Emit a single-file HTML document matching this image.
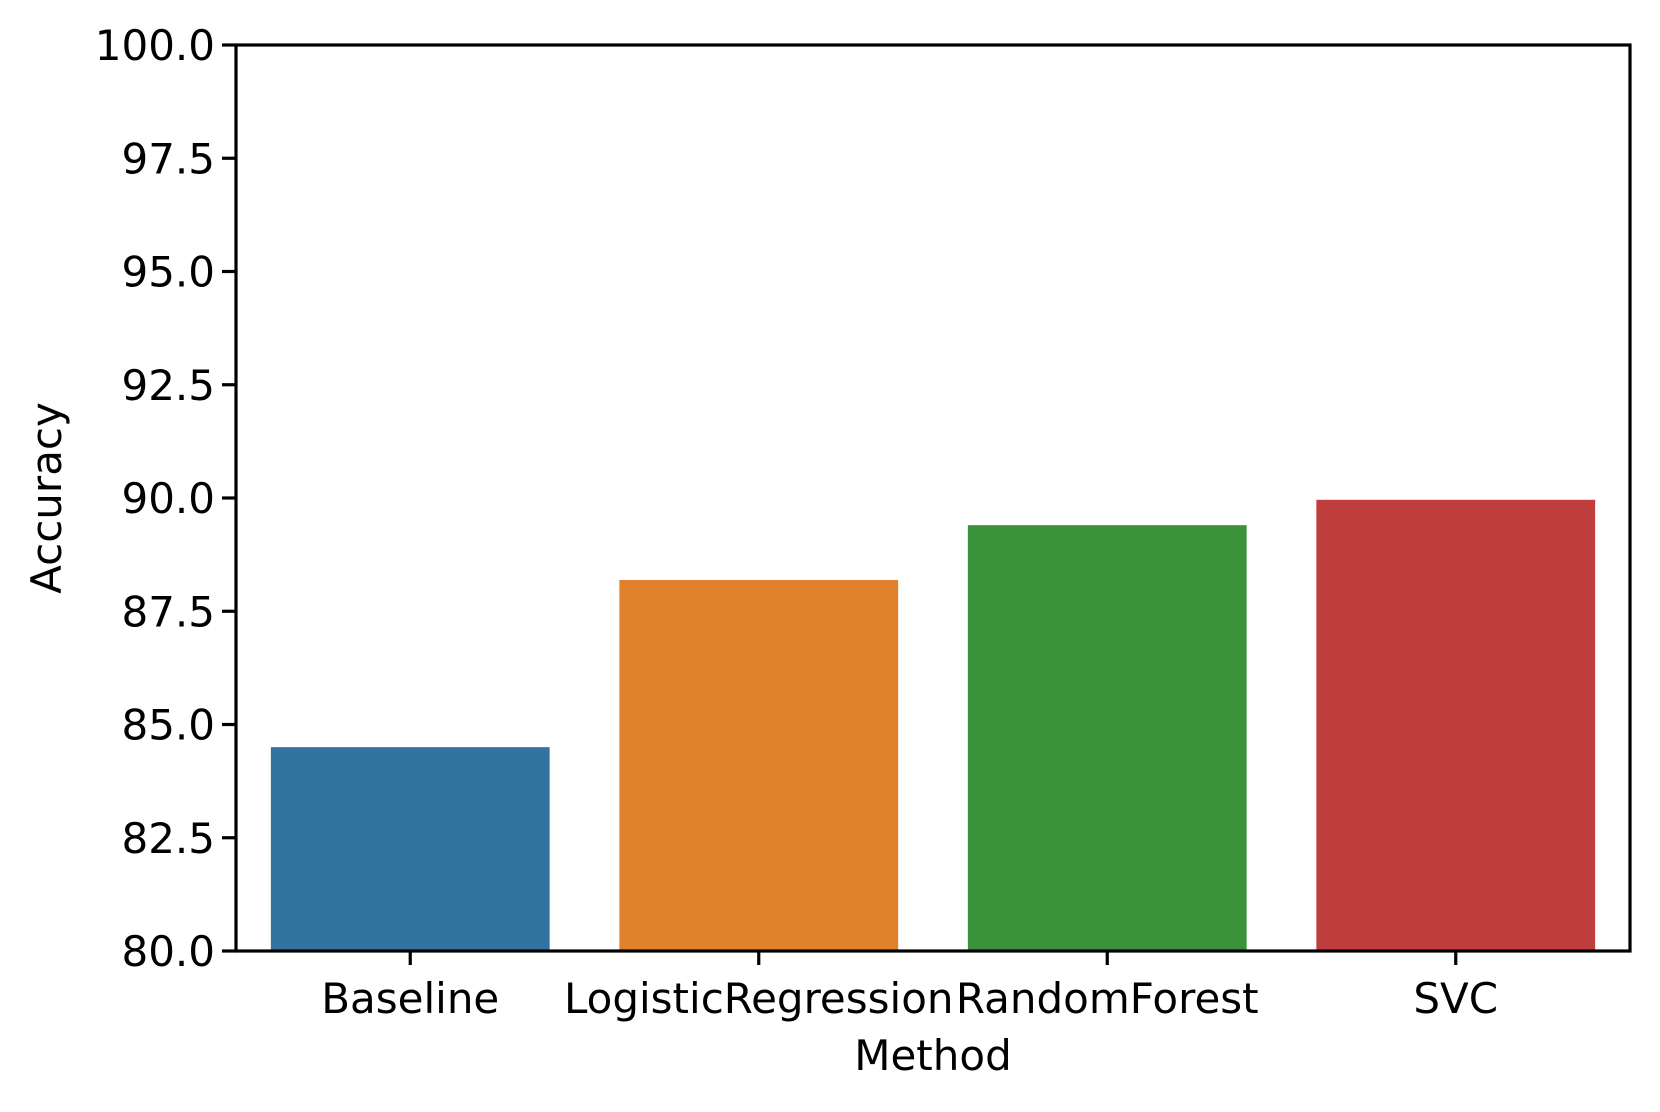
<!DOCTYPE html>
<html><head><meta charset="utf-8"><style>
html,body{margin:0;padding:0;background:#fff;}
svg text{font-family:"DejaVu Sans","Liberation Sans",sans-serif;font-size:42px;fill:#000;}
</style></head><body>
<svg id="chart" width="1660" height="1107" viewBox="0 0 1660 1107">
<rect x="0" y="0" width="1660" height="1107" fill="#fff"/>
<g id="bars"></g>
<g id="axes"></g>
</svg>
<script>
const categories = ["Baseline","LogisticRegression","RandomForest","SVC"];
const accuracy = [84.50, 88.19, 89.40, 89.96];
const colors = ["#3274a1","#e1812c","#3a923a","#c03d3e"];
const yTicks = [80.0, 82.5, 85.0, 87.5, 90.0, 92.5, 95.0, 97.5, 100.0];
const yTickLabels = ["80.0","82.5","85.0","87.5","90.0","92.5","95.0","97.5","100.0"];
const yMin = 80, yMax = 100;

const L=236, R=1630, T=45, B=951;
const NS="http://www.w3.org/2000/svg";
function yScale(v){return B-(v-yMin)/(yMax-yMin)*(B-T);}
const band=(R-L)/categories.length;
function xCenter(i){return L+band*(i+0.5);}
function mk(tag,attrs,parent){const e=document.createElementNS(NS,tag);for(const k in attrs)e.setAttribute(k,attrs[k]);parent.appendChild(e);return e;}
const barsG=document.getElementById('bars'), axG=document.getElementById('axes');

categories.forEach((c,i)=>{
  const w=band*0.8, y=yScale(accuracy[i]);
  const r=mk('rect',{x:xCenter(i)-w/2,y:y,width:w,height:B-y,fill:colors[i]},barsG);
  
  
  const t=mk('line',{x1:xCenter(i),x2:xCenter(i),y1:B,y2:B+14,stroke:'#000','stroke-width':3.2},axG);
  
  
  const lb=mk('text',{x:xCenter(i),y:1013,'text-anchor':'middle'},axG);
  lb.textContent=c;
  
  
});
yTicks.forEach((v,i)=>{
  const y=yScale(v);
  const t=mk('line',{x1:L-14,x2:L,y1:y,y2:y,stroke:'#000','stroke-width':3.2},axG);
  
  
  const lb=mk('text',{x:L-21,y:y+15,'text-anchor':'end'},axG);
  lb.textContent=yTickLabels[i];
  
  
});
const frame=mk('rect',{x:L,y:T,width:R-L,height:B-T,fill:'none',stroke:'#000','stroke-width':3.2},axG);


const xt=mk('text',{x:(L+R)/2,y:1070,'text-anchor':'middle'},axG);
xt.textContent='Method';


const yt=mk('text',{x:0,y:0,'text-anchor':'middle',transform:'translate(61,'+((T+B)/2)+') rotate(-90)'},axG);
yt.textContent='Accuracy';


</script>
</body></html>
